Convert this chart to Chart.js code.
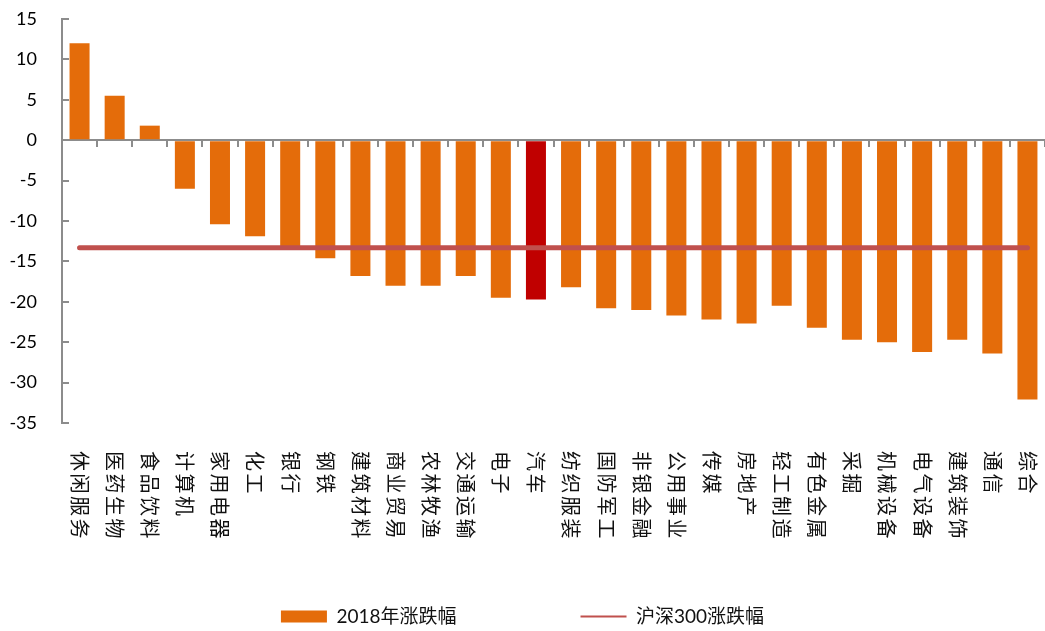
<!DOCTYPE html>
<html>
<head>
<meta charset="utf-8">
<script src="https://cdn.jsdelivr.net/npm/chart.js@4"></script>
<style>
  html, body { margin: 0; padding: 0; background: #fff; }
  #wrap { width: 1045px; height: 631px; position: relative; }
</style>
</head>
<body>
<div id="wrap"><canvas id="industryChart"></canvas></div>
<script>
// 申万行业 2018 年涨跌幅（%）
const industries = ['休闲服务', '医药生物', '食品饮料', '计算机', '家用电器', '化工', '银行', '钢铁',
  '建筑材料', '商业贸易', '农林牧渔', '交通运输', '电子', '汽车', '纺织服装', '国防军工', '非银金融',
  '公用事业', '传媒', '房地产', '轻工制造', '有色金属', '采掘', '机械设备', '电气设备', '建筑装饰',
  '通信', '综合'];
const change2018 = [12.0, 5.5, 1.8, -6.0, -10.4, -11.9, -13.6, -14.6, -16.8, -18.0, -18.0, -16.8,
  -19.5, -19.7, -18.2, -20.8, -21.0, -21.7, -22.2, -22.7, -20.5, -23.2, -24.7, -25.0, -26.2, -24.7,
  -26.4, -32.1];
const hs300Change = -13.3;
const highlighted = '汽车';
const yTicks = [15, 10, 5, 0, -5, -10, -15, -20, -25, -30, -35];

const ORANGE = '#E46C0A';
const DARK_RED = '#C00000';
const LINE_RED = '#C0504D';
const AXIS_GREY = '#8C8C8C';

// 竖排的行业名称（顺时针旋转 90°）
const verticalLabels = {
  id: 'verticalLabels',
  afterDraw(chart) {
    const x = chart.scales.x;
    const ctx = chart.ctx;
    ctx.save();
    ctx.font = '20px "Noto Sans CJK SC"';
    ctx.fillStyle = '#111';
    ctx.textAlign = 'left';
    ctx.textBaseline = 'middle';
    if ('letterSpacing' in ctx) ctx.letterSpacing = '2.5px';
    industries.forEach((name, i) => {
      ctx.save();
      ctx.translate(x.getPixelForValue(i), x.top + 28);
      ctx.rotate(Math.PI / 2);
      ctx.fillText(name, 0, 0);
      ctx.restore();
    });
    ctx.restore();
  }
};

new Chart(document.getElementById('industryChart'), {
  data: {
    labels: industries,
    datasets: [
      {
        type: 'bar',
        label: '2018年涨跌幅',
        data: change2018,
        backgroundColor: industries.map(n => n === highlighted ? DARK_RED : ORANGE),
        borderWidth: 0,
        barPercentage: 0.57,
        categoryPercentage: 1,
        pointStyle: 'rect',
        order: 1
      },
      {
        type: 'line',
        label: '沪深300涨跌幅',
        data: industries.map(() => hs300Change),
        borderColor: LINE_RED,
        backgroundColor: LINE_RED,
        borderWidth: 5,
        borderCapStyle: 'round',
        pointRadius: 0,
        pointStyle: 'line',
        order: 0
      }
    ]
  },
  options: {
    responsive: true,
    maintainAspectRatio: false,
    animation: false,
    layout: { padding: { top: 19, left: 0, right: 0, bottom: -5 } },
    scales: {
      x: {
        position: 'bottom',
        offset: true,
        ticks: { display: false },
        grid: { display: false },
        border: { display: false },
        afterFit(scale) { scale.height = 60; }
      },
      xZero: {
        type: 'category',
        position: { y: 0 },
        offset: true,
        ticks: { display: false },
        grid: { offset: true, drawOnChartArea: false, tickLength: 6, color: AXIS_GREY, lineWidth: 2 },
        border: { color: AXIS_GREY, width: 2 }
      },
      y: {
        min: -35,
        max: 15,
        afterBuildTicks(scale) { scale.ticks = yTicks.map(v => ({ value: v })); },
        ticks: {
          padding: 32,
          color: '#000',
          font: { family: 'Lato', size: 18 }
        },
        grid: { drawOnChartArea: false, tickLength: -7, color: AXIS_GREY, lineWidth: 2 },
        border: { color: AXIS_GREY, width: 2 },
        afterFit(scale) {
          // 刻度线朝内，标签留出的边距不必撑开绘图区
          scale.width = 62;
          scale.paddingTop = 0;
          scale.paddingBottom = 0;
        }
      }
    },
    plugins: {
      tooltip: { enabled: false },
      legend: {
        position: 'bottom',
        labels: {
          usePointStyle: true,
          pointStyleWidth: 46,
          boxHeight: 12,
          padding: 124,
          color: '#111',
          font: { family: 'Lato, "Noto Sans CJK SC"', size: 19 },
          sort: (a, b) => a.datasetIndex - b.datasetIndex,
          generateLabels(chart) {
            const items = Chart.defaults.plugins.legend.labels.generateLabels(chart);
            items.forEach(item => {
              if (item.datasetIndex === 1) {
                item.lineWidth = 2;
                item.strokeStyle = LINE_RED;
              } else {
                item.fillStyle = ORANGE;
                item.lineWidth = 0;
              }
            });
            return items;
          }
        }
      }
    }
  },
  plugins: [verticalLabels]
});
</script>
</body>
</html>
